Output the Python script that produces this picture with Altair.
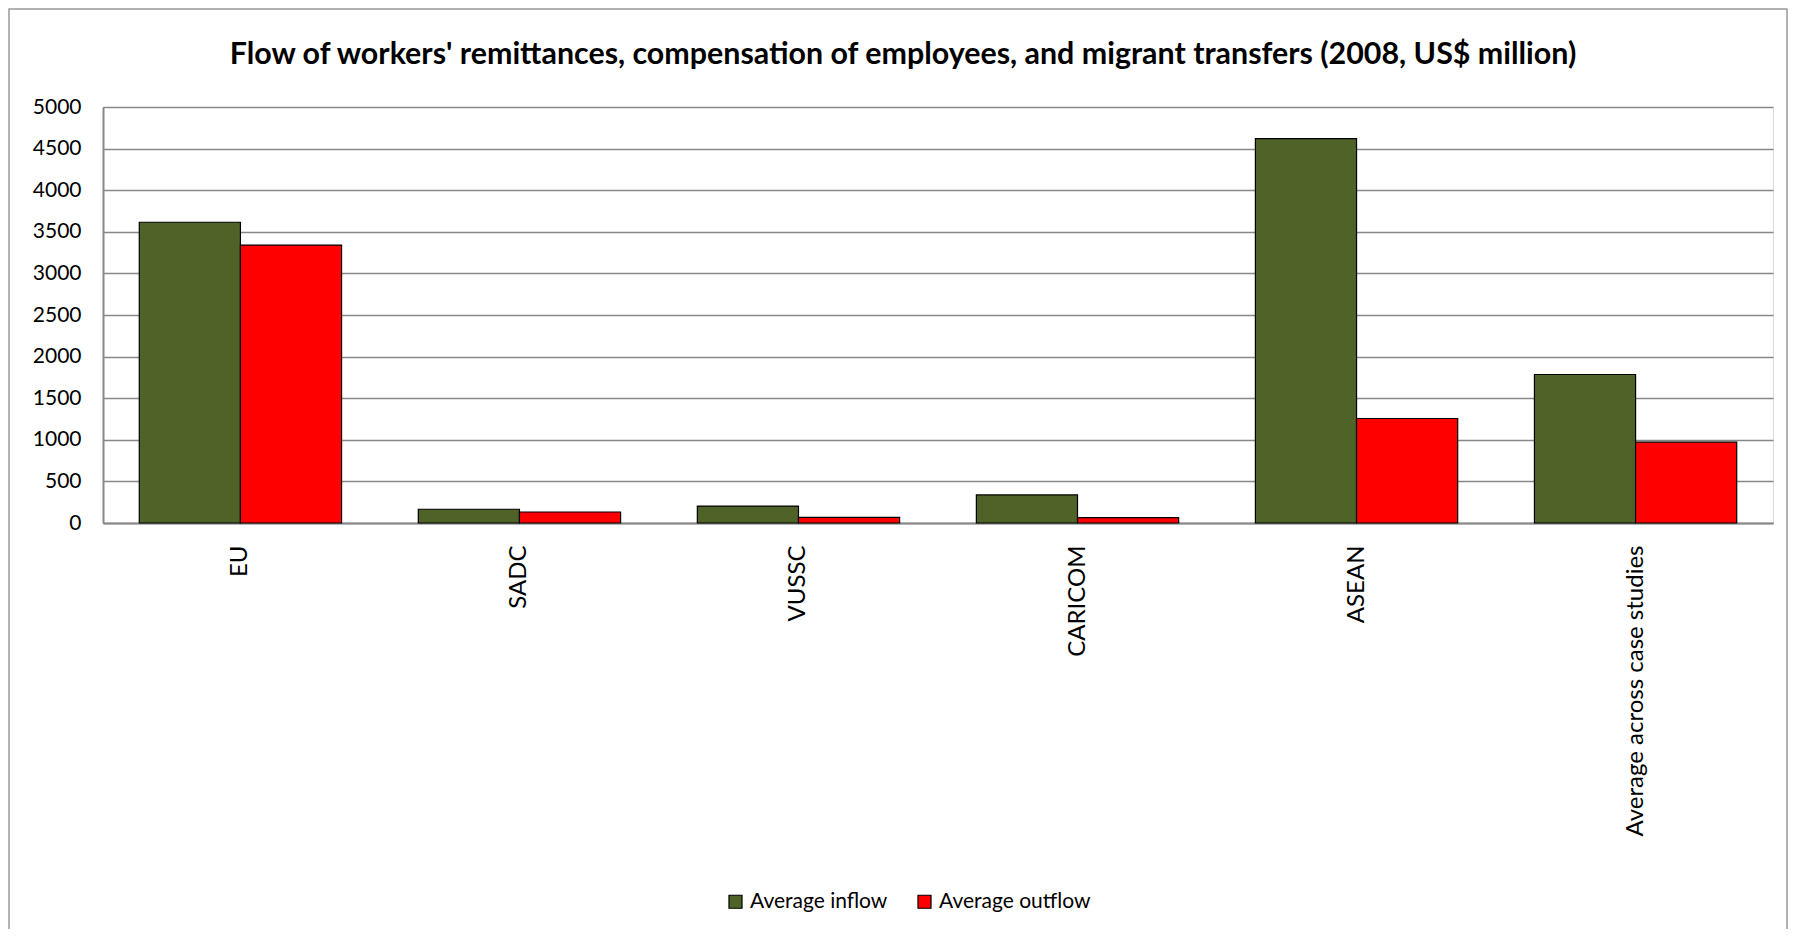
import altair as alt
import pandas as pd

regions = ["EU", "SADC", "VUSSC", "CARICOM", "ASEAN", "Average across case studies"]
inflow = [3615, 165, 204, 337, 4619, 1785]
outflow = [3340, 132, 68, 65, 1256, 971]
series = ["Average inflow", "Average outflow"]
colors = ["#4F6228", "#FF0000"]
y_ticks = [0, 500, 1000, 1500, 2000, 2500, 3000, 3500, 4000, 4500, 5000]

rows = []
for r, i, o in zip(regions, inflow, outflow):
    rows.append({"region": r, "series": series[0], "value": i})
    rows.append({"region": r, "series": series[1], "value": o})
df = pd.DataFrame(rows)

FONT = "Lato"
W, H = 1670, 416
PAD = {"left": 95, "top": 99, "right": 15, "bottom": 406}

bars = alt.Chart(df).mark_bar(stroke="black", strokeWidth=1.2).encode(
    x=alt.X(
        "region:N",
        sort=regions,
        scale=alt.Scale(paddingInner=0.275, paddingOuter=0.13),
        axis=alt.Axis(
            title=None, labelAngle=-90, labelFontSize=24, labelFont=FONT,
            labelColor="black", labelPadding=22, ticks=False,
            domainColor="#888888", domainWidth=2, labelLimit=400,
        ),
    ),
    xOffset=alt.XOffset("series:N", sort=series),
    y=alt.Y(
        "value:Q",
        scale=alt.Scale(domain=[0, 5000], nice=False),
        axis=alt.Axis(
            title=None, values=y_ticks, format="d", labelFontSize=21,
            labelFont=FONT, labelColor="black", labelPadding=22, ticks=False,
            domainColor="#888888", domainWidth=2, gridColor="#888888",
            gridWidth=1.5,
        ),
    ),
    color=alt.Color(
        "series:N",
        sort=series,
        scale=alt.Scale(domain=series, range=colors),
        legend=alt.Legend(
            title=None, orient="none", legendX=622, legendY=784,
            direction="horizontal", symbolType="square", symbolSize=170,
            symbolStrokeColor="black", symbolStrokeWidth=1.2,
            labelFontSize=21, labelFont=FONT, labelColor="black",
            columnPadding=26, symbolOffset=0, labelOffset=4,
        ),
    ),
)

frame = alt.Chart(pd.DataFrame({"k": [0]})).mark_rect(
    fill="transparent", stroke="#999999", strokeWidth=1.5
).encode(
    x=alt.value(-94), x2=alt.value(1684), y=alt.value(-98), y2=alt.value(840)
)

chart = alt.layer(frame, bars).properties(
    width=W,
    height=H,
    padding=PAD,
    autosize=alt.AutoSizeParams(type="none"),
    title=alt.TitleParams(
        "Flow of workers' remittances, compensation of employees, and migrant transfers (2008, US$ million)",
        font=FONT, fontSize=30.4, fontWeight="bold", color="black",
        anchor="middle", frame="bounds", baseline="alphabetic",
        offset=-86, dx=5,
    ),
).configure_view(strokeWidth=0).configure(background="white")

chart.save("out.html", embed_options={"renderer": "svg", "actions": False})
